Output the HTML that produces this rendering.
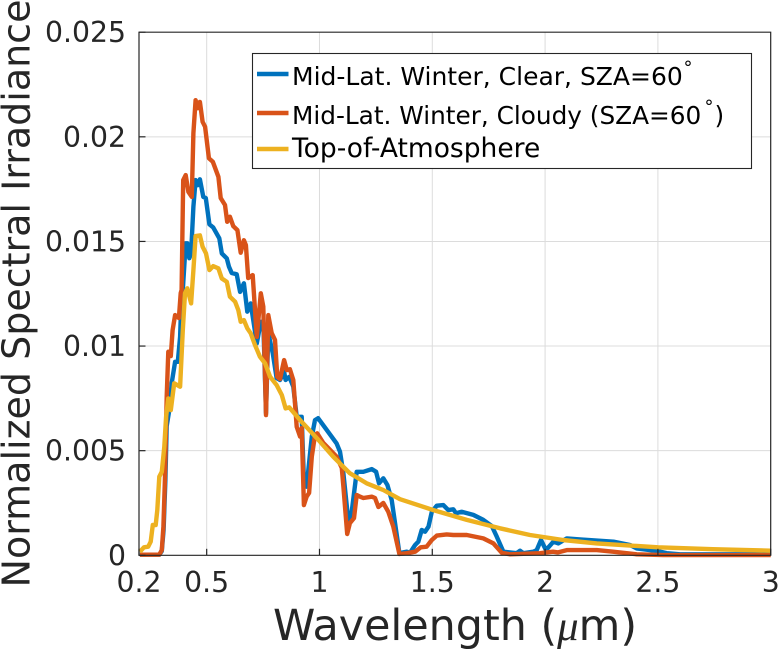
<!DOCTYPE html>
<html>
<head>
<meta charset="utf-8">
<style>
html,body{margin:0;padding:0;background:#fff;width:779px;height:649px;overflow:hidden}
svg{display:block;font-family:"DejaVu Sans","Liberation Sans",sans-serif}
</style>
</head>
<body>
<svg id="chart" xmlns="http://www.w3.org/2000/svg" width="779" height="649" viewBox="0 0 779 649"></svg>
<script>
const xTicks = [0.2, 0.5, 1, 1.5, 2, 2.5, 3];
const xTickLabels = ['0.2', '0.5', '1', '1.5', '2', '2.5', '3'];
const yTicks = [0, 0.005, 0.01, 0.015, 0.02, 0.025];
const yTickLabels = ['0', '0.005', '0.01', '0.015', '0.02', '0.025'];

const clearWavelengths = [.204,.290,.301,.309,.317,.323,.334,.345,.360,.372,.382,.389,.394,.407,.414,.423,.431,.441,.451,.460,.470,.485,.496,.512,.529,.556,.567,.589,.599,.611,.633,.648,.665,.680,.695,.722,.740,.751,.763,.773,.793,.810,.825,.843,.850,.866,.884,.899,.921,.931,.943,.966,.980,.994,1.076,1.091,1.106,1.128,1.143,1.165,1.194,1.232,1.251,1.264,1.283,1.301,1.320,1.354,1.387,1.401,1.424,1.438,1.453,1.468,1.483,1.498,1.520,1.549,1.571,1.593,1.605,1.630,1.682,1.726,1.764,1.786,1.815,1.874,1.889,1.904,1.948,1.963,1.982,2.004,2.037,2.059,2.096,2.155,2.303,2.377,2.406,2.495,2.539,2.598,3.0];
const clearValues = [.00003,.00003,.00020,.00121,.00360,.00618,.00691,.00823,.00925,.00925,.01044,.01253,.01268,.01491,.01491,.01420,.01444,.01666,.01793,.01769,.01797,.01713,.01707,.01582,.01567,.01515,.01443,.01419,.01379,.01349,.01343,.01259,.01300,.01164,.01204,.01013,.01116,.01116,.00680,.01062,.00965,.00847,.00838,.00877,.00838,.00853,.00806,.00662,.00662,.00360,.00328,.00567,.00646,.00655,.00535,.00495,.00392,.00161,.00208,.00399,.00399,.00412,.00399,.00344,.00368,.00336,.00264,.00010,.00017,.00012,.00049,.00065,.00121,.00113,.00137,.00208,.00237,.00240,.00216,.00220,.00201,.00208,.00193,.00169,.00140,.00089,.00017,.00010,.00022,.00010,.00017,.00025,.00073,.00025,.00065,.00057,.00081,.00076,.00065,.00049,.00033,.00021,.00010,.00005,.00005];

const cloudyWavelengths = [.204,.290,.301,.308,.315,.323,.330,.341,.349,.360,.377,.385,.389,.396,.407,.419,.434,.441,.451,.460,.470,.482,.493,.510,.527,.552,.562,.581,.591,.603,.618,.636,.651,.665,.674,.684,.704,.722,.740,.751,.763,.773,.788,.803,.813,.825,.843,.855,.869,.884,.899,.914,.921,.931,.943,.954,.966,.980,.990,1.017,1.039,1.076,1.099,1.106,1.123,1.135,1.153,1.165,1.180,1.194,1.232,1.246,1.261,1.283,1.305,1.327,1.354,1.387,1.424,1.449,1.475,1.498,1.520,1.564,1.593,1.653,1.726,1.771,1.808,1.845,1.978,1.991,2.035,2.057,2.096,2.229,2.301,2.406,2.523,3.0];
const cloudyValues = [.00003,.00003,.00025,.00137,.00360,.00758,.00973,.00952,.01076,.01148,.01134,.01253,.01268,.01793,.01817,.01737,.01713,.02018,.02175,.02137,.02167,.02072,.02048,.01898,.01881,.01809,.01707,.01674,.01594,.01618,.01573,.01554,.01446,.01506,.01482,.01325,.01339,.01044,.01252,.01188,.00670,.01148,.01062,.01029,.00853,.00842,.00933,.00885,.00889,.00838,.00614,.00567,.00608,.00240,.00280,.00298,.00471,.00575,.00583,.00537,.00513,.00471,.00417,.00328,.00102,.00154,.00178,.00288,.00280,.00274,.00280,.00274,.00231,.00250,.00208,.00137,.00006,.00010,.00017,.00038,.00041,.00073,.00094,.00100,.00097,.00097,.00081,.00057,.00012,.00005,.00010,.00012,.00017,.00014,.00025,.00025,.00017,.00005,.00001,.00001];

const toaWavelengths = [.204,.222,.241,.252,.261,.274,.281,.290,.301,.312,.320,.330,.341,.356,.382,.394,.404,.414,.431,.441,.451,.470,.482,.497,.512,.529,.552,.567,.589,.603,.626,.640,.651,.665,.680,.695,.714,.736,.759,.781,.810,.833,.850,.866,.914,.988,1.061,1.135,1.209,1.283,1.357,1.505,1.653,1.800,1.933,2.080,2.229,2.501,2.744,3.0];
const toaValues = [.00017,.00038,.00041,.00065,.00145,.00145,.00216,.00376,.00399,.00519,.00662,.00750,.00694,.00822,.00806,.01076,.01252,.01276,.01204,.01363,.01526,.01529,.01475,.01443,.01363,.01382,.01371,.01323,.01307,.01236,.01212,.01172,.01116,.01124,.01085,.01061,.01005,.00949,.00917,.00853,.00814,.00766,.00702,.00707,.00646,.00560,.00471,.00392,.00344,.00312,.00268,.00216,.00169,.00129,.00097,.00073,.00057,.00038,.00029,.00022];

const NS = 'http://www.w3.org/2000/svg';
const svg = document.getElementById('chart');
const plotLeft = 139, plotRight = 770.7, plotTop = 32.2, plotBottom = 555.3;
const xMin = 0.2, xMax = 3, yMin = 0, yMax = 0.025;

function xScale(v) { return plotLeft + (v - xMin) / (xMax - xMin) * (plotRight - plotLeft); }
function yScale(v) { return plotBottom - (v - yMin) / (yMax - yMin) * (plotBottom - plotTop); }

function mk(tag, attrs, text) {
  const el = document.createElementNS(NS, tag);
  for (const k in attrs) el.setAttribute(k, attrs[k]);
  if (text !== undefined) el.textContent = text;
  svg.appendChild(el);
  return el;
}

// Grid
xTicks.slice(1, -1).forEach(function (t) {
  const g = mk('line', {x1: xScale(t), x2: xScale(t), y1: plotTop, y2: plotBottom, stroke: '#dcdcdc', 'stroke-width': 1});
  
  
});
yTicks.slice(1, -1).forEach(function (t) {
  const g = mk('line', {x1: plotLeft, x2: plotRight, y1: yScale(t), y2: yScale(t), stroke: '#dcdcdc', 'stroke-width': 1});
  
  
});

// Series
function pts(xs, ys) { return xs.map(function (x, i) { return xScale(x).toFixed(1) + ',' + yScale(ys[i]).toFixed(1); }).join(' '); }
const lineAttrs = {fill: 'none', 'stroke-width': 4.4, 'stroke-linejoin': 'round', 'stroke-linecap': 'butt'};
const s1 = mk('polyline', Object.assign({points: pts(clearWavelengths, clearValues), stroke: '#0072BD'}, lineAttrs));


const s2 = mk('polyline', Object.assign({points: pts(cloudyWavelengths, cloudyValues), stroke: '#D95319'}, lineAttrs));


const s3 = mk('polyline', Object.assign({points: pts(toaWavelengths, toaValues), stroke: '#EDB120'}, lineAttrs));



// Axes
const axis = mk('path', {d: 'M' + plotLeft + ' ' + plotTop + 'H' + plotRight + 'V' + plotBottom + 'H' + plotLeft + 'Z', fill: 'none', stroke: '#262626', 'stroke-width': 1.2});



xTicks.forEach(function (t, i) {
  const tk = mk('line', {x1: xScale(t), x2: xScale(t), y1: plotBottom, y2: plotBottom - 6.5, stroke: '#262626', 'stroke-width': 1.2});
  
  
  const lb = mk('text', {x: xScale(t), y: 592, 'text-anchor': 'middle', 'font-size': 28.3, fill: '#262626'}, xTickLabels[i]);
  
  
});
yTicks.forEach(function (t, i) {
  const tk = mk('line', {x1: plotLeft, x2: plotLeft + 6.5, y1: yScale(t), y2: yScale(t), stroke: '#262626', 'stroke-width': 1.2});
  
  
  const lb = mk('text', {x: 126, y: yScale(t) + 10, 'text-anchor': 'end', 'font-size': 28.3, fill: '#262626'}, yTickLabels[i]);
  
  
});

// Axis titles
const xt = mk('text', {x: 455, y: 640, 'text-anchor': 'middle', 'font-size': 42.8, fill: '#262626'});


xt.innerHTML = 'Wavelength (<tspan font-style="italic" font-family="Liberation Serif">μ</tspan>m)';
const yt = mk('text', {transform: 'translate(29.5,293.5) rotate(-90)', 'text-anchor': 'middle', 'font-size': 38, fill: '#262626'}, 'Normalized Spectral Irradiance');



// Legend
const lg = mk('rect', {x: 252.5, y: 53.5, width: 499, height: 115, fill: '#fff', stroke: '#262626', 'stroke-width': 1.1});



const l1 = mk('line', {x1: 257, x2: 288.5, y1: 74, y2: 74, stroke: '#0072BD', 'stroke-width': 4.4});


const l2 = mk('line', {x1: 257, x2: 288.5, y1: 113, y2: 113, stroke: '#D95319', 'stroke-width': 4.4});


const l3 = mk('line', {x1: 257, x2: 288.5, y1: 149, y2: 149, stroke: '#EDB120', 'stroke-width': 4.4});



const t1 = mk('text', {x: 292, y: 85, 'font-size': 25, fill: '#000'}, 'Mid-Lat. Winter, Clear, SZA=60');


const d1 = mk('text', {x: 683.5, y: 73.5, 'font-size': 18, fill: '#000'}, '°');


const t2 = mk('text', {x: 292, y: 124, 'font-size': 24.75, fill: '#000'}, 'Mid-Lat. Winter, Cloudy (SZA=60');


const d2 = mk('text', {x: 704.5, y: 112.5, 'font-size': 18, fill: '#000'}, '°');


const p2 = mk('text', {x: 714.5, y: 124, 'font-size': 24.75, fill: '#000'}, ')');


const t3 = mk('text', {x: 292, y: 157, 'font-size': 26.5, fill: '#000'}, 'Top-of-Atmosphere');


</script>
</body>
</html>
